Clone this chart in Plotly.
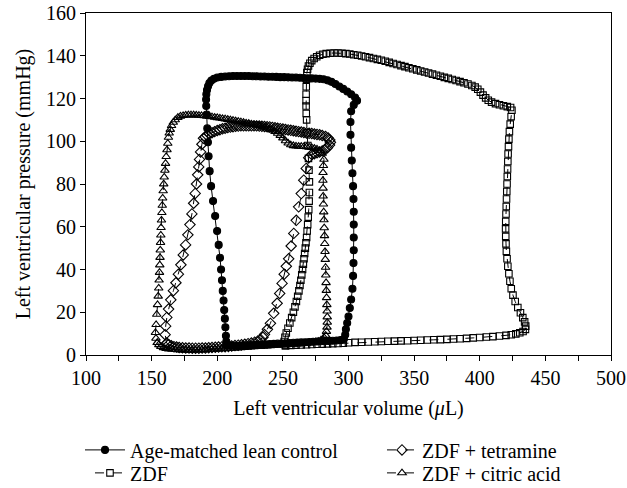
import plotly.graph_objects as go

# ---------------- data ----------------
ctrl_v = [207, 210, 213, 216, 219, 222, 225, 228, 231, 234, 237, 240, 243, 246, 249, 252, 255, 258, 261, 264,
          267, 270, 273, 276, 279, 282, 285, 288, 291, 294, 296.5,
          297.5, 298, 299, 300, 301, 302, 303, 303.5, 303.8, 304, 304, 304, 304, 303.8, 303.5, 303, 302.5, 302,
          301.5, 301.5, 302, 304, 306.5,
          305, 302, 299, 296, 293, 290, 287, 284, 281, 278, 275, 272, 269, 266, 263, 260, 257, 254, 251, 248,
          245, 242, 239, 236, 233, 230, 227, 224, 221, 218, 215, 212, 209, 206, 203, 200, 197.5, 195.5, 194,
          193, 192.2, 191.7,
          191.5, 191.6, 192, 192.4, 192.9, 193.4, 194.2, 195.3, 196.8, 198.4, 199.9, 201.1, 202.1, 202.9,
          203.6, 204.2, 204.8, 205.3, 205.8, 206.2, 206.6, 206.9]
ctrl_p = [4.6, 4.4, 4.3, 4.3, 4.4, 4.5, 4.6, 4.7, 4.8, 4.9, 5.0, 5.1, 5.2, 5.3, 5.4, 5.5, 5.6, 5.7, 5.8, 5.9,
          6.0, 6.1, 6.2, 6.3, 6.4, 6.5, 6.6, 6.7, 6.8, 7.0, 7.5,
          9.5, 12, 15, 18, 22, 26, 31, 37, 43, 49, 55, 61, 67, 73, 79, 85, 91, 97,
          103, 109, 114, 117, 119,
          120.5, 122, 123.3, 124.5, 125.6, 126.8, 127.8, 128.5, 129, 129.2, 129.3, 129.4, 129.5, 129.6, 129.7,
          129.8, 129.8, 129.9, 130, 130, 130.1, 130.2, 130.2, 130.3, 130.3, 130.4, 130.4, 130.5, 130.5, 130.5,
          130.5, 130.5, 130.4, 130.3, 130.1, 129.8, 129.2, 128.4, 127.2, 125.7, 124, 122,
          119.5, 116.5, 112.5, 106, 99.5, 93, 86, 79, 72, 65, 58, 51.5, 45.5, 40,
          35, 30, 25.5, 21, 17, 13, 9, 6.3]

zdf_v = [252, 256, 260, 264, 268, 272, 276, 280, 284, 288, 292, 296, 300, 305, 310, 315, 320, 325, 330, 335,
         340, 345, 350, 355, 360, 365, 370, 375, 380, 385, 390, 395, 400, 405, 410, 415, 420, 424, 427.5,
         430.5, 433, 434.8,
         435, 434.2, 432.8, 431, 429, 427, 425.3, 424, 423, 422.2, 421.4, 420.8, 420.3, 420, 419.8, 419.7,
         419.8, 420, 420.2, 420.4, 420.6, 420.8, 421, 421.2, 421.4, 421.6, 421.9, 422.2, 422.6, 423.2, 423.9,
         424.5, 423.5,
         421, 418, 415, 412, 409, 406.5, 404.5, 402.5, 400.5, 398.5, 396.5, 394, 391, 388, 385, 382, 379,
         376, 373, 370, 367, 364, 361, 358, 355, 352, 349, 346, 343, 340, 337, 334, 331, 328, 325, 322, 319,
         316, 313, 310, 307, 304, 301, 298, 295, 292, 289, 286, 283, 280.5, 278, 275.8, 273.8, 272, 270.6,
         269.5, 268.8, 268.3,
         268, 267.8, 267.7, 267.7, 267.7, 267.8, 268.1, 268.5, 269, 269.5, 269.9, 270.2, 270.2, 270, 269.7,
         269.3, 268.9, 268.5, 268.1, 267.6, 267.1, 266.6, 266.1, 265.6, 265, 264.4, 263.7, 263, 262.2, 261.3,
         260.3, 259.2, 258, 256.7, 255.3, 253.9, 252.6, 251.6, 251]
zdf_p = [4.4, 4.5, 4.6, 4.7, 4.8, 4.9, 5.0, 5.1, 5.2, 5.3, 5.4, 5.5, 5.7, 5.9, 6.0, 6.1, 6.2, 6.3, 6.4, 6.5,
         6.6, 6.7, 6.8, 6.9, 7.0, 7.1, 7.2, 7.3, 7.5, 7.6, 7.8, 8.0, 8.2, 8.4, 8.6, 8.9, 9.2, 9.5, 9.9,
         10.4, 11.0, 12.0,
         13.5, 15.5, 17.5, 19.8, 22.2, 25, 28, 31, 34.5, 38, 41.5, 45, 48.5, 52, 55.5, 59,
         62.5, 66, 69.5, 73, 76.5, 80, 83.5, 87, 90.5, 94, 97.5, 101, 104.5, 108, 111.5,
         114.5, 115.8,
         116.2, 116.6, 117.1, 117.6, 118.3, 119.2, 120.3, 121.6, 123, 124.3, 125.3, 126.1, 126.8, 127.4,
         127.9, 128.4, 128.9, 129.4, 129.9, 130.4, 130.9, 131.4, 131.9, 132.4, 132.9, 133.4, 133.9, 134.4,
         134.9, 135.4, 135.9, 136.4, 136.9, 137.4, 137.9, 138.3, 138.7, 139.1, 139.5, 139.9, 140.2, 140.5,
         140.8, 141, 141.2, 141.3, 141.3, 141.2, 141, 140.7, 140.2, 139.5, 138.7, 137.7, 136.5, 135.2,
         133.7, 132.1,
         129, 125.5, 122, 119, 116.5, 113, 110, 104, 98, 92, 86.5, 81, 76, 72, 68,
         64.5, 61, 58, 55, 52.5, 50, 47.5, 45, 42.5, 40, 37.5, 35, 32.5, 30, 27.5,
         25, 22.5, 20, 17.5, 15, 12.5, 10.3, 8.3, 6.3]

tet_v = [161.5, 163, 165, 167, 169, 171, 173.5, 176, 178.5, 181, 183.5, 186, 188.5, 191, 193.5, 196, 198.5,
         201, 203.5, 206, 208.5, 211, 213.5, 216, 218.5, 221, 223.5, 226, 228.5, 231, 233, 234.8,
         236, 238.2, 240.5, 243, 245.6, 247.6, 249.4, 251, 252.6, 254.4, 256.3, 258.3, 260.2, 262, 264,
         265.9, 267.8, 269.7,
         272, 274, 276, 278, 280, 282, 284, 285.5, 286.2, 285.8, 284.5, 282.5, 280, 278, 276, 274, 272, 270,
         268, 266, 264, 262, 260, 258, 256, 254, 252, 250, 248, 246, 244, 242, 240, 238, 236, 234, 232, 230,
         228, 226, 224, 222, 220, 218, 216, 214, 212, 210, 208, 206, 204, 202, 200, 198, 196, 194, 192.3,
         190.8, 189.5,
         188.3, 187.3, 186.5, 185.9, 185.1, 184.2, 183.2, 182, 180.7, 179.2, 177.6, 175.9, 174.1, 172.3,
         170.4, 168.5, 166.6, 164.6, 162.9, 161.6, 160.7, 160.3]
tet_p = [5.5, 4.9, 4.3, 3.9, 3.7, 3.5, 3.4, 3.3, 3.3, 3.2, 3.2, 3.2, 3.3, 3.3, 3.4, 3.5, 3.6,
         3.7, 3.8, 3.9, 4.0, 4.2, 4.4, 4.6, 4.8, 5.0, 5.3, 5.6, 6.0, 6.6, 7.3, 8.3,
         9.6, 12, 14.8, 19.5, 24.2, 28.8, 33.5, 37.8, 41.5, 45, 51, 56.9, 63, 69.3, 75.5,
         81.8, 87.3, 92.3,
         93.8, 94.2, 94.6, 95.0, 95.5, 96.1, 97.0, 98.2, 99.5, 100.6, 101.5, 102.2, 102.7, 103.0, 103.2,
         103.4, 103.6, 103.7, 103.9, 104.1, 104.3, 104.5, 104.7, 104.9, 105.1, 105.3, 105.5, 105.7, 105.9,
         106.1, 106.3, 106.5, 106.7, 106.8, 106.9, 107.0, 107.1, 107.2, 107.2, 107.2, 107.2, 107.2, 107.2,
         107.2, 107.1, 107.0, 106.8, 106.6, 106.4, 106.1, 105.8, 105.4, 105.0, 104.5, 104.0, 103.4, 102.7,
         102.0, 101.4,
         98.6, 95, 91.5, 88, 84.3, 80, 75.6, 71, 66, 61, 56.2, 51.5, 46.8, 42.2,
         37.8, 33.8, 30.1, 25.8, 21.5, 17.6, 13.5, 9.5]

cit_v = [154.3, 155.5, 157, 159, 161, 163, 165.5, 168, 170.5, 173, 175.5, 178, 180.5, 183, 185.5, 188, 190.5,
         193, 195.5, 198, 200.5, 203, 205.5, 208, 210.5, 213, 215.5, 218, 220.5, 223, 225.5, 228, 230.5, 233,
         235.5, 238, 240.5, 243, 245.5, 248, 250.5, 253, 255.5, 258, 260.5, 263, 265.5, 268, 270.5, 273, 275,
         277, 279, 280.5, 281.6,
         282.6, 283.2, 283.6, 283.8, 283.8, 283.7, 283.5, 283.3, 283.1, 282.9, 282.7, 282.5, 282.3, 282.1,
         281.9, 281.7, 281.5, 281.3, 281.1, 280.9, 280.7, 280.6, 280.5, 280.6, 280.9, 281.3,
         280, 278, 276, 274, 272, 270, 268, 266, 264, 262, 260, 258, 256, 254, 252, 250, 248, 246, 244, 242,
         240, 238, 236, 234, 232, 230, 228, 226, 224, 222, 220, 218, 216, 214, 212, 210, 208, 206, 204, 202,
         200, 198, 196, 194, 192, 190, 188, 186, 184, 182, 180, 178, 176, 174, 172, 170, 168, 166.5, 165.2,
         164.2, 163.4,
         162.8, 162.3, 161.7, 161.1, 160.6, 160.1, 159.6, 159.2, 158.8, 158.4, 158.1, 157.8, 157.5, 157.2,
         157, 156.8, 156.6, 156.4, 156.2, 156, 155.7, 155.4, 155, 154.5, 153.9, 153.4, 152.9, 153.3]
cit_p = [5.8, 4.8, 4.0, 3.4, 3.0, 2.8, 2.6, 2.5, 2.4, 2.3, 2.3, 2.2, 2.2, 2.3, 2.3, 2.4, 2.4,
         2.5, 2.6, 2.7, 2.8, 2.9, 3.0, 3.0, 3.1, 3.2, 3.3, 3.4, 3.5, 3.6, 3.7, 3.8, 3.9, 4.0,
         4.1, 4.2, 4.3, 4.4, 4.5, 4.6, 4.7, 4.8, 4.9, 5.0, 5.1, 5.2, 5.4, 5.5, 5.7, 5.9, 6.1,
         6.4, 6.9, 7.4, 8.0,
         9.2, 11, 13, 15.3, 17.8, 20.5, 23.5, 26.8, 30.2, 33.8, 37.4, 41, 44.7, 48.4,
         52.1, 55.8, 59.5, 63.2, 66.9, 70.6, 74.3, 78, 81.7, 85.3, 88.6, 91.5,
         94.3, 95.5, 96.3, 96.7, 97.0, 97.2, 97.4, 97.5, 97.6, 97.6, 97.7, 97.9, 98.3, 99.1, 100.2, 101.5,
         102.7, 103.7, 104.5, 105.2,
         105.7, 106.2, 106.6, 107.0, 107.3, 107.5, 107.8, 108.0, 108.3, 108.5, 108.8, 109.0, 109.3, 109.5,
         109.8, 110.0, 110.2, 110.4, 110.6, 110.8,
         111.0, 111.2, 111.4, 111.6, 111.7, 111.9, 112.0, 112.1, 112.2, 112.3, 112.3, 112.3, 112.2, 112.0,
         111.7, 111.1, 110.0, 108.8, 107.3,
         105.5, 103.8,
         101.8, 99, 96, 92.8, 89.6, 86.4, 83.2, 80, 76.8, 73.4, 70, 66.6, 63.1, 59.6,
         56.1, 52.6, 49.1, 45.6, 42.1, 38.6, 35, 31.3, 27.5, 23.5, 19, 14.2, 10.5, 7.8]

series_names = ["Age-matched lean control", "ZDF", "ZDF + tetramine", "ZDF + citric acid"]
x_tick_vals = [100, 125, 150, 175, 200, 225, 250, 275, 300, 325, 350, 375, 400, 425, 450, 475, 500]
x_tick_text = ["100", "", "150", "", "200", "", "250", "", "300", "", "350", "", "400", "", "450", "", "500"]
y_tick_vals = [0, 20, 40, 60, 80, 100, 120, 140, 160]

FONT = "Liberation Serif"
FS = 20

def closed(a):
    return list(a) + [a[0]]

fig = go.Figure()
# (x, y, name, symbol, size, dash, legend id)
specs = [
    (ctrl_v, ctrl_p, series_names[0], "circle", 7, "solid", "legend"),
    (zdf_v, zdf_p, series_names[1], "square-open", 6.5, "dash", "legend2"),
    (tet_v, tet_p, series_names[2], "diamond-open", 8, "dash", "legend3"),
    (cit_v, cit_p, series_names[3], "triangle-up-open", 7.5, "dash", "legend4"),
]
for v, p, name, sym, size, dash, lg in specs:
    fig.add_trace(go.Scatter(
        x=closed(v), y=closed(p), name=name, mode="lines+markers",
        line=dict(color="black", width=1, dash=dash),
        marker=dict(symbol=sym, size=size, color="black", line=dict(color="black", width=1.1)),
        legend=lg,
    ))

axis_common = dict(showline=True, linecolor="black", linewidth=1, mirror=True, showgrid=False,
                   zeroline=False, ticks="outside", ticklen=5, tickcolor="black", tickwidth=1,
                   automargin=False,
                   tickfont=dict(family=FONT, size=FS, color="black"))

leg_common = dict(xanchor="left", yanchor="middle", bgcolor="rgba(0,0,0,0)", borderwidth=0,
                  font=dict(family=FONT, size=FS, color="black"))

fig.update_layout(
    width=627, height=488,
    margin=dict(l=86, r=16, t=13, b=133, autoexpand=False),
    paper_bgcolor="white", plot_bgcolor="white",
    font=dict(family=FONT, size=FS, color="black"),
    xaxis=dict(range=[100, 500], tickvals=x_tick_vals, ticktext=x_tick_text,
               title=dict(text="Left ventricular volume (<i>μ</i>L)", font=dict(family=FONT, size=FS), standoff=12),
               **axis_common),
    yaxis=dict(range=[0, 160], tickvals=y_tick_vals,
               title=dict(text="Left ventricular pressure (mmHg)", font=dict(family=FONT, size=FS), standoff=10),
               **axis_common),
    legend=dict(x=-0.0114, y=-0.2775, itemwidth=40, **leg_common),
    legend2=dict(x=0.0076, y=-0.3447, itemwidth=30, **leg_common),
    legend3=dict(x=0.5638, y=-0.2775, itemwidth=30, **leg_common),
    legend4=dict(x=0.5638, y=-0.3447, itemwidth=30, **leg_common),
    showlegend=True,
)

fig.write_html("out.html", config={"displayModeBar": False},
               post_script="document.body.style.margin='0';")
